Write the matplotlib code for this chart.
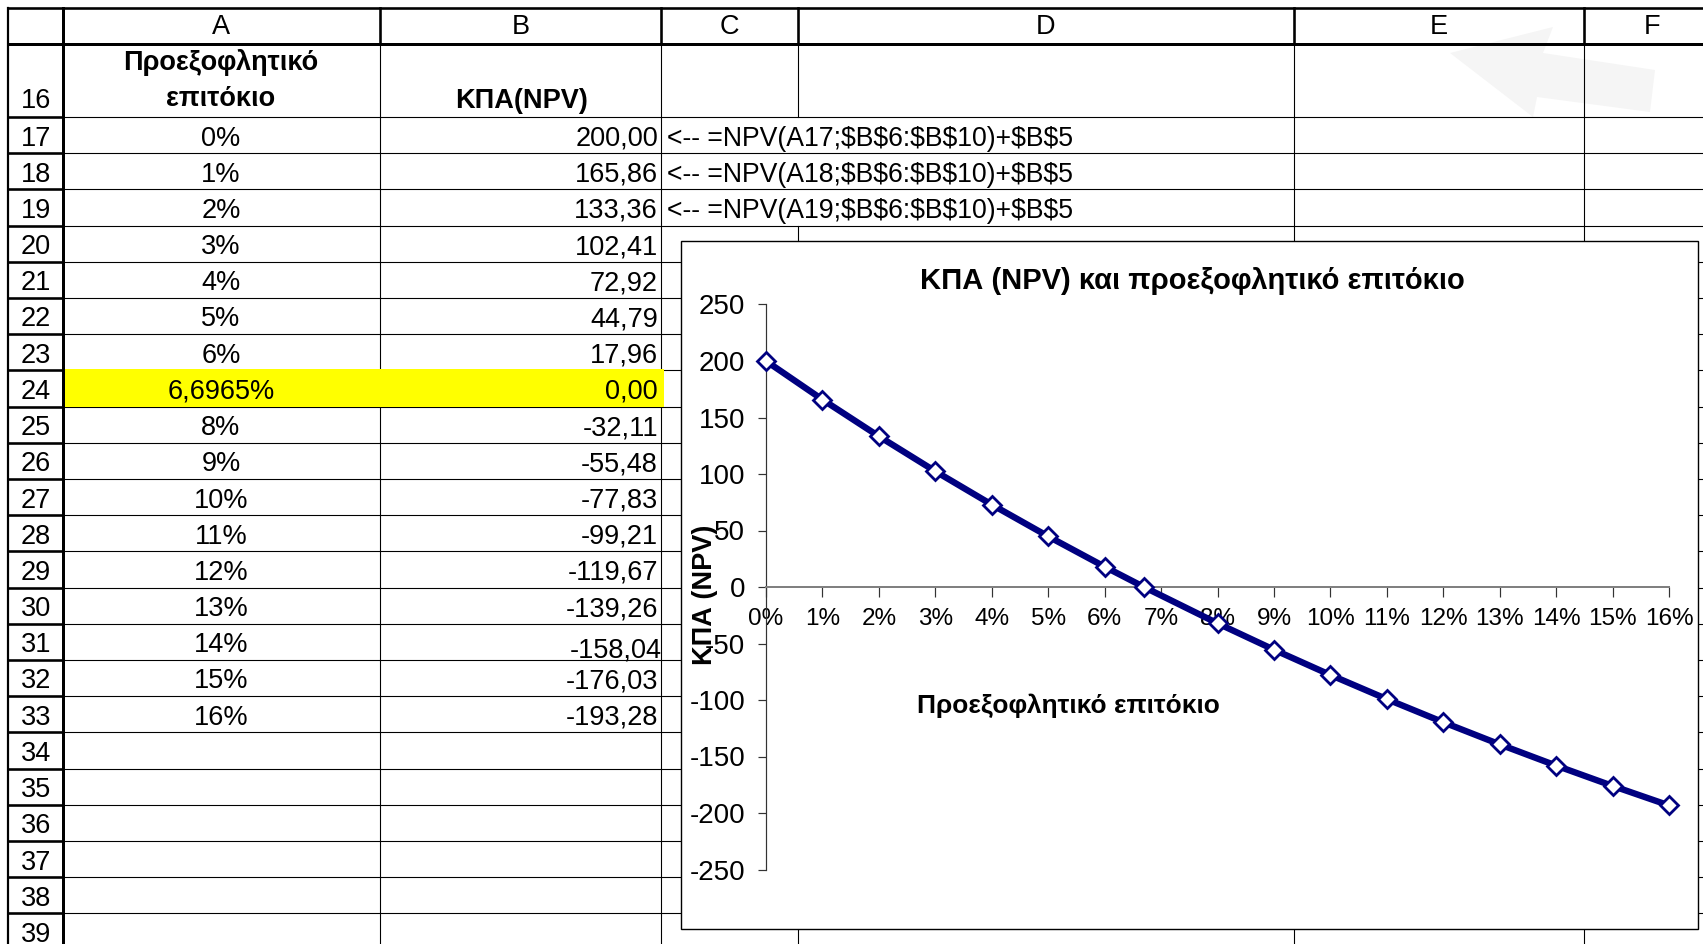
import matplotlib
matplotlib.use("Agg")
import matplotlib.pyplot as plt
from matplotlib.patches import Rectangle, Polygon
from matplotlib.ticker import MultipleLocator, FuncFormatter

plt.rcParams['font.family'] = ['Liberation Sans', 'DejaVu Sans']
plt.rcParams['text.parse_math'] = False  # formulas contain $ signs

# --- data ---
rates = [0.00, 0.01, 0.02, 0.03, 0.04, 0.05, 0.06, 0.066965,
         0.08, 0.09, 0.10, 0.11, 0.12, 0.13, 0.14, 0.15, 0.16]
rate_labels = ['0%', '1%', '2%', '3%', '4%', '5%', '6%', '6,6965%',
               '8%', '9%', '10%', '11%', '12%', '13%', '14%', '15%', '16%']
npv = [200.00, 165.86, 133.36, 102.41, 72.92, 44.79, 17.96, 0.00,
       -32.11, -55.48, -77.83, -99.21, -119.67, -139.26, -158.04, -176.03, -193.28]
formulas = ['<-- =NPV(A17;$B$6:$B$10)+$B$5',
            '<-- =NPV(A18;$B$6:$B$10)+$B$5',
            '<-- =NPV(A19;$B$6:$B$10)+$B$5']
col_letters = ['A', 'B', 'C', 'D', 'E', 'F']
first_row, last_row = 16, 39
irr_row = 24

title = 'ΚΠΑ (NPV) και προεξοφλητικό επιτόκιο'
xlabel = 'Προεξοφλητικό επιτόκιο'
ylabel = 'ΚΠΑ (NPV)'

# --- sheet geometry (pixels) ---
W, H = 1703, 944
col_edges = [8, 63, 380, 661, 798, 1294, 1584, 1720]
hdr_top, hdr_bot = 8, 44
row16_bot = 117
row_h = 36.2
px = 0.72  # points per pixel at dpi 100
FS = 19.5

fig = plt.figure(figsize=(W / 100, H / 100), dpi=100)
bg = fig.add_axes([0, 0, 1, 1])
bg.set_xlim(0, W)
bg.set_ylim(H, 0)
bg.axis('off')

# faint arrow watermark
bg.add_patch(Polygon([(1450, 53), (1553, 27), (1543, 53), (1655, 70),
                      (1650, 112), (1537, 97), (1533, 117)],
                     closed=True, fc='#f5f5f5', ec='none', zorder=0))

def row_top(r):
    return row16_bot + (r - 17) * row_h

n_rows = last_row - 17 + 2
row_lines = [row16_bot + k * row_h for k in range(n_rows)]

# horizontal grid
for y in row_lines:
    bg.plot([col_edges[1], W], [y, y], color='black', lw=1.1 * px, zorder=1)
    bg.plot([col_edges[0], col_edges[1]], [y, y], color='black', lw=2.6 * px, zorder=2)

# vertical grid
for x in col_edges[2:-1]:
    if x == 798:
        bg.plot([x, x], [hdr_bot, row_top(17)], color='black', lw=1.1 * px, zorder=1)
        bg.plot([x, x], [row_top(20), H], color='black', lw=1.1 * px, zorder=1)
    else:
        bg.plot([x, x], [hdr_bot, H], color='black', lw=1.1 * px, zorder=1)
    bg.plot([x, x], [hdr_top, hdr_bot], color='black', lw=2.6 * px, zorder=2)

# header frame
bg.plot([col_edges[0], W], [hdr_top, hdr_top], color='black', lw=2.6 * px, zorder=2)
bg.plot([col_edges[0], W], [hdr_bot, hdr_bot], color='black', lw=3.0 * px, zorder=2)
bg.plot([col_edges[0]] * 2, [hdr_top, H], color='black', lw=2.2 * px, zorder=2)
bg.plot([col_edges[1]] * 2, [hdr_top, H], color='black', lw=3.0 * px, zorder=2)

# column letters
for i, c in enumerate(col_letters):
    xc = (col_edges[i + 1] + col_edges[i + 2]) / 2
    if c == 'F':
        xc = 1652
    bg.text(xc, 27, c, ha='center', va='center', fontsize=FS, zorder=3)

# row 16 header cells
bg.text(36, 108, '16', ha='center', va='baseline', fontsize=FS, zorder=3)
bg.text(221, 70, 'Προεξοφλητικό', ha='center', va='baseline', fontsize=FS,
        fontweight='bold', zorder=3)
bg.text(221, 106, 'επιτόκιο', ha='center', va='baseline', fontsize=FS,
        fontweight='bold', zorder=3)
bg.text(522, 108, 'ΚΠΑ(NPV)', ha='center', va='baseline', fontsize=FS,
        fontweight='bold', zorder=3)

# highlighted IRR row
yt = row_top(irr_row)
bg.add_patch(Rectangle((col_edges[1] + 1.5, yt - 1), col_edges[3] - col_edges[1] + 1,
                       row_h + 1.5, fc='#ffff00', ec='none', zorder=1.5))

# row numbers and values
for r in range(17, last_row + 1):
    yb = row_top(r) + 28.5
    bg.text(36, yb, str(r), ha='center', va='baseline', fontsize=FS, zorder=3)
for k, (lab, v) in enumerate(zip(rate_labels, npv)):
    r = 17 + k
    yb = row_top(r) + 28.5
    bg.text(221, yb, lab, ha='center', va='baseline', fontsize=FS, zorder=3)
    vtxt = f'{v:.2f}'.replace('.', ',')
    xr, yv = 658, yb
    if r == 31:
        xr, yv = 662, yb + 5
    bg.text(xr, yv, vtxt, ha='right', va='baseline', fontsize=FS, zorder=3)
for k, f in enumerate(formulas):
    bg.text(667, row_top(17 + k) + 28.5, f, ha='left', va='baseline', fontsize=19.2, zorder=3)

# chart frame
bg.add_patch(Rectangle((681, 241), 1017, 688, fc='white', ec='black',
                       lw=1.4 * px, zorder=4))

# --- embedded chart ---
ax = fig.add_axes([766 / W, (H - 869.5) / H, 903 / W, 565 / H])
ax.set_facecolor('none')
ax.plot(rates, npv, color='#000080', lw=4.6, marker='D', ms=9,
        mfc='white', mec='#000080', mew=2.0, clip_on=False, zorder=3)
ax.set_xlim(0, 0.16)
ax.set_ylim(-250, 250)
for s in ['top', 'right']:
    ax.spines[s].set_visible(False)
ax.spines['bottom'].set_position(('data', 0))
ax.spines['bottom'].set_color('#808080')
ax.spines['bottom'].set_linewidth(2.0 * px)
ax.spines['left'].set_color('#333333')
ax.spines['left'].set_linewidth(1.2 * px)
ax.xaxis.set_major_locator(MultipleLocator(0.01))
ax.xaxis.set_major_formatter(FuncFormatter(lambda v, p: f'{round(v * 100):d}%'))
ax.yaxis.set_major_locator(MultipleLocator(50))
ax.yaxis.set_major_formatter(FuncFormatter(lambda v, p: f'{v:.0f}'))
ax.tick_params(axis='x', direction='out', length=7, width=1.2 * px, color='#333333',
               labelsize=17.5, pad=8)
ax.tick_params(axis='y', direction='out', length=6, width=1.2 * px, color='#333333',
               labelsize=20, pad=9)

fig.text(1192 / W, 1 - 281 / H, title, ha='center', va='center', fontsize=21,
         fontweight='bold')
fig.text(1068 / W, 1 - 706 / H, xlabel, ha='center', va='center', fontsize=19,
         fontweight='bold')
fig.text(705 / W, 1 - 595 / H, ylabel, ha='center', va='center', rotation=90,
         fontsize=FS, fontweight='bold')

fig.savefig('out.png', dpi=100)
